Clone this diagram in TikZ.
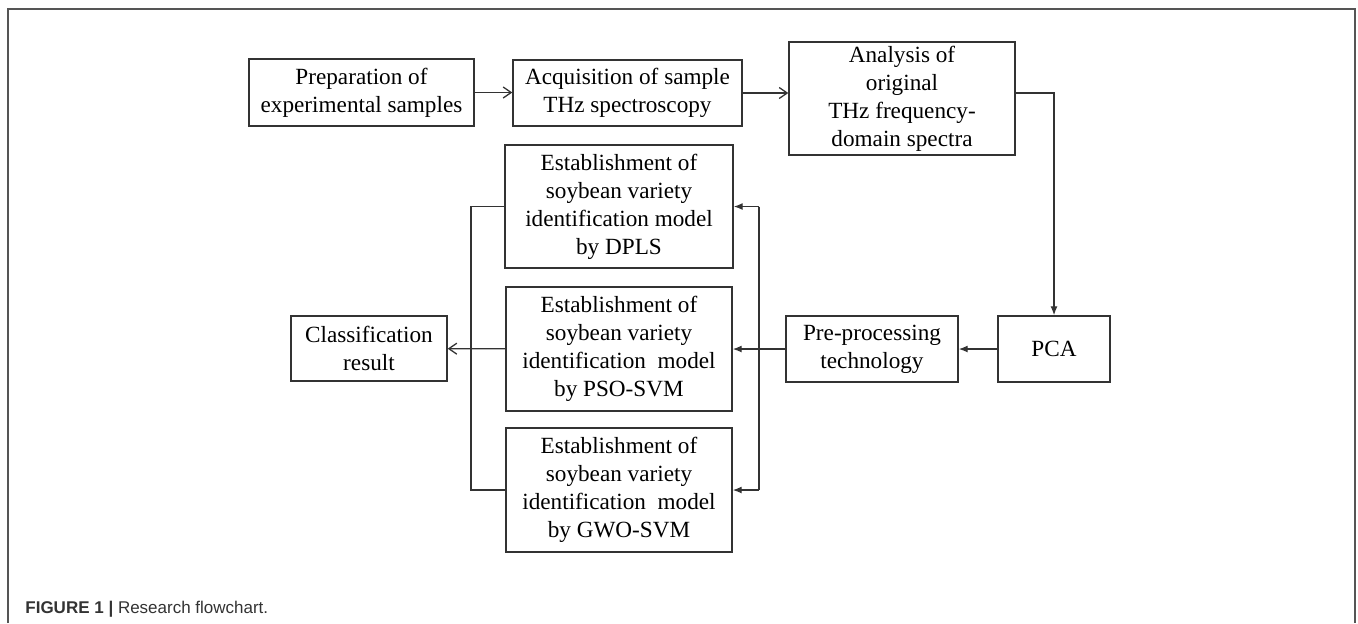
\documentclass[tikz,border=0pt]{standalone}
\usepackage{fontspec}
\setmainfont{Liberation Serif}
\setsansfont{Liberation Sans}
\usetikzlibrary{positioning}
\usetikzlibrary{arrows.meta}
\definecolor{linegray}{HTML}{333333}
\definecolor{framegray}{HTML}{555555}
\definecolor{capgray}{HTML}{333333}

\begin{document}
\begin{tikzpicture}[x=0.5pt, y=-0.5pt,
	stepbox/.style={draw=linegray, line width=0.7pt, align=center, inner sep=0pt,
		font=\fontsize{11.6}{14}\selectfont},
	wire/.style={draw=linegray, line width=0.65pt},
	openarrow/.style={wire, -{Straight Barb[length=4pt,width=5.5pt]}},
	fillarrow/.style={wire, -{Latex[length=4.5pt,width=3.5pt]}}]

		% Frame of the figure (open at the bottom)
		\useasboundingbox (0,0) rectangle (1358,623);
		\draw[framegray, line width=1pt] (8,623) -- (8,9) -- (1355,9) -- (1355,623);

		% Top row
		\node[stepbox, minimum width=112.5pt, minimum height=33.5pt] (prep) at (361.5,92.5)
			{Preparation of\\experimental samples};
		\node[stepbox, minimum width=114.5pt, minimum height=33pt] (acq) at (627.5,93)
			{Acquisition of sample\\THz spectroscopy};
		\node[stepbox, minimum width=113pt, minimum height=56.5pt] (ana) at (902,98.5)
			{Analysis of\\original\\THz frequency-\\domain spectra};

		% Middle row
		\node[stepbox, minimum width=56pt, minimum height=33pt] (pca) at (1054,349) {PCA};
		\node[stepbox, minimum width=86pt, minimum height=33pt] (pre) at (872,349)
			{Pre-processing\\technology};
		\node[stepbox, minimum width=78pt, minimum height=32.5pt] (cls) at (369,348.5)
			{Classification\\result};

		% The three models
		\node[stepbox, minimum width=114pt, minimum height=61.5pt] (dpls) at (619,206.5)
			{Establishment of\\soybean variety\\identification model\\by DPLS};
		\node[stepbox, minimum width=113pt, minimum height=62pt] (pso) at (619,349)
			{Establishment of\\soybean variety\\identification\ \ model\\by PSO-SVM};
		\node[stepbox, minimum width=113pt, minimum height=62pt] (gwo) at (619,490)
			{Establishment of\\soybean variety\\identification\ \ model\\by GWO-SVM};

		% Junctions of the branches
		\coordinate (rj) at (759,349);
		\coordinate (lj) at (471,349);

		% Connectors
		\draw[openarrow] (prep.east) -- (prep.east -| acq.west);
		\draw[openarrow] (acq.east) -- (acq.east -| ana.west);
		\draw[fillarrow] (acq.east -| ana.east) -| (pca.north);
		\draw[fillarrow] (pca) -- (pre);
		\draw[fillarrow] (pre) -- (pso);
		\draw[wire] (rj |- dpls.east) -- (rj |- gwo.east);
		\draw[fillarrow] (rj |- dpls.east) -- (dpls.east);
		\draw[fillarrow] (rj |- gwo.east) -- (gwo.east);
		\draw[wire] (dpls.west) -| (lj) |- (gwo.west);
		\draw[openarrow] (pso) -- (cls);

		% Caption
		\node[anchor=base west, inner sep=0pt, text=capgray,
			font=\sffamily\fontsize{8.5}{10}\selectfont] (caption) at (25,613)
			{\textbf{FIGURE 1 |} Research flowchart.};

	\end{tikzpicture}
\end{document}
